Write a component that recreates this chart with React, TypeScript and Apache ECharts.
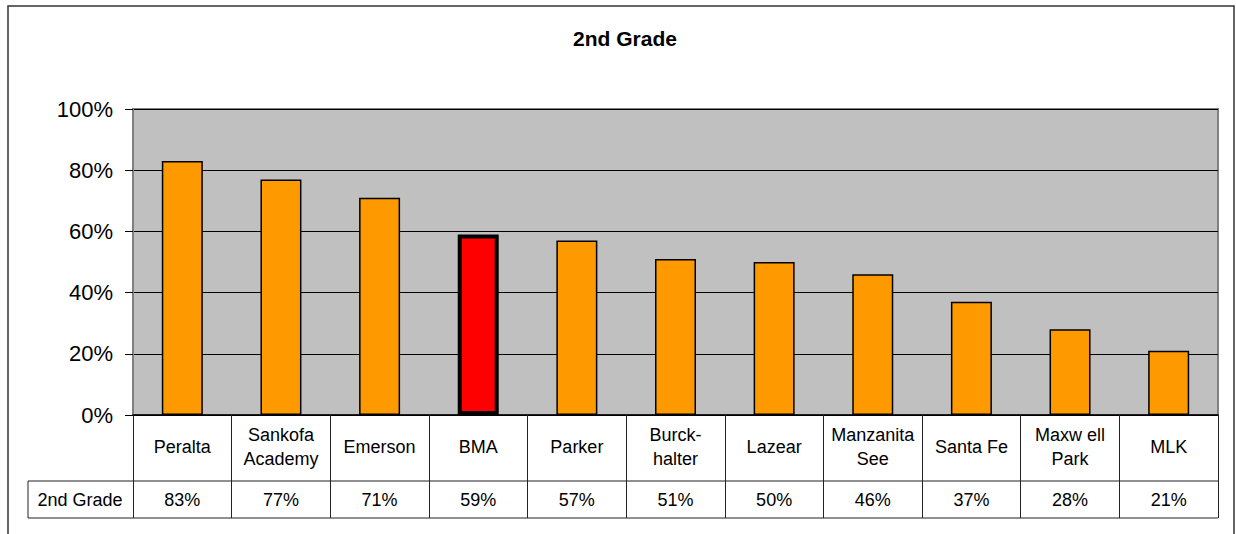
import React, { useEffect, useRef } from "react";
import * as echarts from "echarts";

const categories = [
  "Peralta",
  "Sankofa\nAcademy",
  "Emerson",
  "BMA",
  "Parker",
  "Burck-\nhalter",
  "Lazear",
  "Manzanita\nSee",
  "Santa Fe",
  "Maxw ell\nPark",
  "MLK",
];
const values = [0.83, 0.77, 0.71, 0.59, 0.57, 0.51, 0.5, 0.46, 0.37, 0.28, 0.21];
const highlight = "BMA";
const seriesName = "2nd Grade";
const yTicks = [0, 0.2, 0.4, 0.6, 0.8, 1];

const FONT = "Arial, 'Liberation Sans', sans-serif";

export default function App() {
  const ref = useRef<HTMLDivElement>(null);
  useEffect(() => {
    if (!ref.current) return;
    const chart = echarts.init(ref.current, null, { renderer: "svg" });
    const gl = 133, gt = 109, gw = 1085, gh = 306;
    const gb = gt + gh;
    const row1 = gb + 66;
    const row2 = row1 + 37;
    chart.setOption({
      animation: false,
      backgroundColor: "#ffffff",
      title: {
        text: "2nd Grade",
        left: 620,
        top: 23,
        textAlign: "center",
        textStyle: { fontFamily: FONT, fontSize: 21, fontWeight: "bold", color: "#000" },
      },
      grid: {
        left: gl,
        top: gt,
        width: gw,
        height: gh,
        show: true,
        backgroundColor: "#C0C0C0",
        borderColor: "#808080",
        borderWidth: 2,
      },
      xAxis: [
        {
          type: "category",
          data: categories,
          position: "bottom",
          boundaryGap: true,
          axisLine: { show: true, onZero: false, lineStyle: { color: "#000", width: 1.5 } },
          axisTick: { show: true, length: row2 - gb, lineStyle: { color: "#222", width: 1 } },
          axisLabel: {
            interval: 0,
            margin: 32,
            verticalAlign: "middle",
            fontFamily: FONT,
            fontSize: 18,
            lineHeight: 24,
            color: "#000",
          },
          splitLine: { show: false },
        },
        {
          type: "category",
          data: values.map((v) => Math.round(v * 100) + "%"),
          position: "bottom",
          offset: row1 - gb,
          boundaryGap: true,
          axisLine: { show: false },
          axisTick: { show: false },
          axisLabel: {
            interval: 0,
            margin: 19,
            verticalAlign: "middle",
            fontFamily: FONT,
            fontSize: 18,
            color: "#000",
          },
        },
      ],
      yAxis: {
        type: "value",
        min: 0,
        max: 1,
        interval: 0.2,
        axisLine: { show: true, lineStyle: { color: "#808080", width: 2 } },
        axisTick: { show: true, length: 8, lineStyle: { color: "#000" } },
        axisLabel: {
          margin: 20,
          fontFamily: FONT,
          fontSize: 22,
          color: "#000",
          formatter: (v: number) => (yTicks.includes(v) ? Math.round(v * 100) + "%" : ""),
        },
        splitLine: { show: true, lineStyle: { color: "#000", width: 1 } },
      },
      series: [
        {
          name: seriesName,
          type: "bar",
          xAxisIndex: 0,
          barWidth: 41,
          data: values.map((v, i) =>
            categories[i] === highlight
              ? { value: v, itemStyle: { color: "#FF0000", borderColor: "#000", borderWidth: 4 } }
              : { value: v, itemStyle: { color: "#FF9900", borderColor: "#000", borderWidth: 1.5 } }
          ),
        },
      ],
      graphic: [
        {
          type: "rect",
          shape: { x: 8, y: 6, width: 1226, height: 540 },
          style: { fill: "none", stroke: "#333", lineWidth: 1.5 },
          silent: true,
        },
        {
          type: "line",
          shape: { x1: 28, y1: row1, x2: gl + gw, y2: row1 },
          style: { stroke: "#222", lineWidth: 1 },
        },
        {
          type: "line",
          shape: { x1: 28, y1: row2, x2: gl + gw, y2: row2 },
          style: { stroke: "#222", lineWidth: 1 },
        },
        {
          type: "line",
          shape: { x1: 28, y1: row1, x2: 28, y2: row2 },
          style: { stroke: "#222", lineWidth: 1 },
        },
        {
          type: "text",
          x: 80,
          y: (row1 + row2) / 2,
          style: {
            text: seriesName,
            font: `18px ${FONT}`,
            fill: "#000",
            align: "center",
            verticalAlign: "middle",
          },
        },
      ],
    });
    return () => chart.dispose();
  }, []);
  return (
    <div
      ref={ref}
      style={{ position: "fixed", left: 0, top: 0, width: 1236, height: 534 }}
    />
  );
}
